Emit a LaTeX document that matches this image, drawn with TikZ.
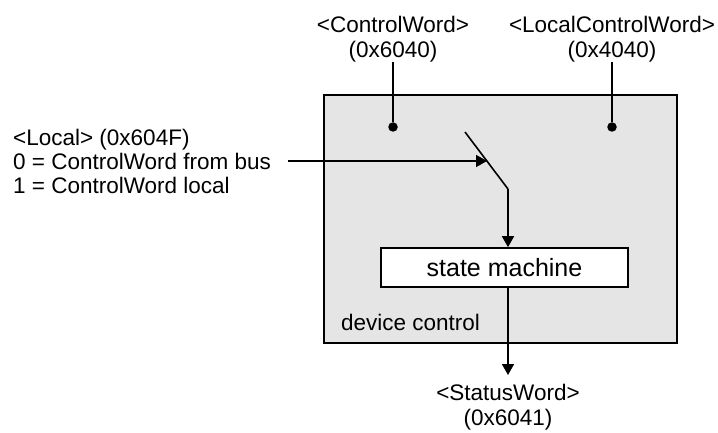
\documentclass[tikz,border=0pt]{standalone}
\usepackage{fontspec}
\setmainfont{Liberation Sans}
\usetikzlibrary{arrows.meta}
\definecolor{panelgray}{RGB}{229,229,229}

\begin{document}
\begin{tikzpicture}
[
x=1pt, y=-1pt,
Panel/.style={rectangle,draw=black,fill=panelgray, line width=1.6pt, minimum width=353pt, minimum height=248pt, inner sep=0pt},
Machine/.style={rectangle,draw=black,fill=white, line width=1.6pt, minimum width=247pt, minimum height=39pt, inner sep=0pt, font=\fontsize{25}{27}\selectfont},
Label/.style={inner sep=0pt, align=center, font=\fontsize{22.5}{25}\selectfont},
Dot/.style={circle, fill=black, inner sep=0pt, minimum size=9.5pt},
Wire/.style={-, draw=black, line width=1.6pt},
WireArrow/.style={-{Triangle[length=11pt,width=12pt]}, draw=black, line width=1.6pt},
]

\useasboundingbox (0,0) rectangle (718,433);

\node[Panel] (panel) at (500.5,219) {};
\node[Machine] (machine) at (504.5,267.5) {state machine};
\node[Label, anchor=base west] (devlabel) at (341,330) {device control};

\node[Dot] (cwdot) at (393,127) {};
\node[Dot] (lcwdot) at (612,127) {};

\node[Label, anchor=south] (cwlabel) at (393,62) {<ControlWord>\\(0x6040)};
\node[Label, anchor=south] (lcwlabel) at (612,62) {<LocalControlWord>\\(0x4040)};
\node[Label, anchor=north] (swlabel) at (508,384) {<StatusWord>\\(0x6041)};

\node[Label, align=left, anchor=north west, font=\fontsize{22.5}{24}\selectfont] (localtext) at (13,128.5)
    {<Local> (0x604F)\\0 = ControlWord from bus\\1 = ControlWord local};

% switch
\coordinate (busin) at (288,161);
\coordinate (swtop) at (465,132);
\coordinate (swbot) at (508,189);
\coordinate (swhit) at (487,161);

\draw[Wire] (cwlabel) -- (cwdot);
\draw[Wire] (lcwlabel) -- (lcwdot);
\draw[Wire] (swtop) -- (swbot);

\draw[WireArrow] (busin) -- (swhit);
\draw[WireArrow] (swbot) -- (swbot |- machine.north);
\draw[WireArrow, shorten >=9pt] (swbot |- machine.south) -- (swlabel.north);

\end{tikzpicture}
\end{document}
